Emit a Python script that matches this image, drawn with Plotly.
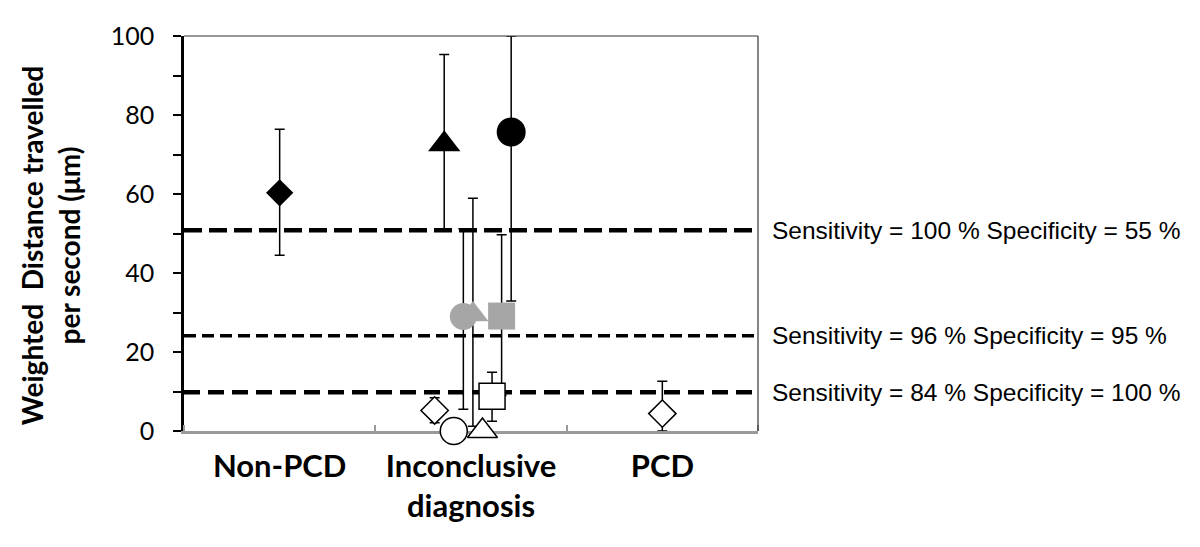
import plotly.graph_objects as go

# ---------------- data ----------------
categories = ["Non-PCD", "Inconclusive<br>diagnosis", "PCD"]
cat_centers = [0.5, 1.5, 2.5]

# each point: x position (category slot), value, +error, -error
pt_x = [0.5, 1.31, 1.36, 1.41, 1.46, 1.51, 1.56, 1.61, 1.66, 1.71, 2.5]
pt_value = [60.3, 5.2, 72.6, 0.0, 29.0, 29.5, 0.0, 8.8, 29.1, 75.7, 4.4]
pt_err_plus = [16.1, 3.2, 22.7, 0.0, 22.2, 29.4, 0.0, 6.1, 20.6, 24.3, 8.2]
pt_err_minus = [15.8, 3.1, 21.8, 0.0, 23.5, 28.3, 0.0, 6.3, 20.1, 42.8, 4.4]
pt_symbol = ["diamond", "diamond", "triangle-up", "circle", "circle", "triangle-up",
             "triangle-up", "square", "square", "circle", "diamond"]
pt_fill = ["black", "white", "black", "white", "#a6a6a6", "#a6a6a6",
           "white", "white", "#a6a6a6", "black", "white"]
pt_size = [21, 21, 28, 27, 27, 27, 26, 26, 27, 29, 21]

thresholds = [50.8, 24.1, 9.8]
threshold_labels = ["Sensitivity = 100 % Specificity = 55 %",
                    "Sensitivity = 96 % Specificity = 95 %",
                    "Sensitivity = 84 % Specificity = 100 %"]
threshold_width = [4.5, 3.5, 4.5]
threshold_dash = ["18px,7px", "12px,6px", "16px,8px"]

# ---------------- figure ----------------
fig = go.Figure()

# error bars first (below all markers)
for i in range(len(pt_x)):
    fig.add_trace(go.Scatter(
        x=[pt_x[i]], y=[pt_value[i]], mode="markers",
        marker=dict(size=1, color="rgba(0,0,0,0)"),
        error_y=dict(type="data", symmetric=False,
                     array=[pt_err_plus[i]], arrayminus=[pt_err_minus[i]],
                     color="black", thickness=1.5, width=5,
                     visible=(pt_err_plus[i] + pt_err_minus[i]) > 0),
        showlegend=False, hoverinfo="skip", cliponaxis=False))

# markers: filled/grey ones first, white on top
order = [i for i in range(len(pt_x)) if pt_fill[i] != "white"] + \
        [i for i in range(len(pt_x)) if pt_fill[i] == "white"]
for i in order:
    line_col = "black" if pt_fill[i] != "#a6a6a6" else "#a6a6a6"
    fig.add_trace(go.Scatter(
        x=[pt_x[i]], y=[pt_value[i]], mode="markers",
        marker=dict(symbol=pt_symbol[i], size=pt_size[i], color=pt_fill[i],
                    line=dict(color=line_col, width=1.5 if pt_fill[i] == "white" else 0)),
        showlegend=False, cliponaxis=False))

# threshold lines + labels
for t, lab, w, d in zip(thresholds, threshold_labels, threshold_width, threshold_dash):
    fig.add_shape(type="line", xref="paper", yref="y", x0=0, x1=1, y0=t, y1=t,
                  line=dict(color="black", width=w, dash=d), layer="below")
    fig.add_annotation(xref="paper", yref="y", x=1.021, y=t, text=lab,
                       showarrow=False, xanchor="left", yanchor="middle",
                       font=dict(family="Liberation Sans, Arial", size=24.5, color="black"))

# top & right borders
fig.add_shape(type="line", xref="paper", yref="paper", x0=0, x1=1, y0=1, y1=1,
              line=dict(color="#333333", width=1.2))
fig.add_shape(type="line", xref="paper", yref="paper", x0=1, x1=1, y0=0, y1=1,
              line=dict(color="#333333", width=1.2))

# y title
fig.add_annotation(xref="paper", yref="paper", x=-0.232, y=0.47,
                   text="Weighted  Distance travelled<br>per second (μm)",
                   textangle=-90, showarrow=False, xanchor="center", yanchor="middle",
                   font=dict(family="Lato", size=28, color="black", weight="bold"))

fig.update_layout(
    width=1200, height=547,
    margin=dict(l=176, r=450, t=26, b=124),
    plot_bgcolor="white", paper_bgcolor="white",
    showlegend=False,
    xaxis=dict(range=[0, 3], tickmode="array", tickvals=cat_centers, ticktext=categories,
               ticks="", showgrid=False, zeroline=False, ticklabelstandoff=6,
               showline=True, linecolor="#9a9a9a", linewidth=2.5, layer="below traces",
               tickfont=dict(family="Lato", size=31, color="black", weight="bold"),
               minor=dict(tick0=0, dtick=1, ticks="inside", ticklen=6, tickwidth=2,
                          tickcolor="#9a9a9a", showgrid=False)),
    yaxis=dict(range=[0, 100], tickmode="linear", tick0=0, dtick=20,
               ticks="outside", ticklen=8, tickwidth=2, tickcolor="black",
               showgrid=False, zeroline=False, ticklabelstandoff=14,
               showline=True, linecolor="black", linewidth=2.5, layer="below traces",
               tickfont=dict(family="Lato", size=25, color="black"),
               minor=dict(dtick=10, ticks="outside", ticklen=8, tickwidth=2,
                          tickcolor="black", showgrid=False)),
)

fig.write_html("out.html")
